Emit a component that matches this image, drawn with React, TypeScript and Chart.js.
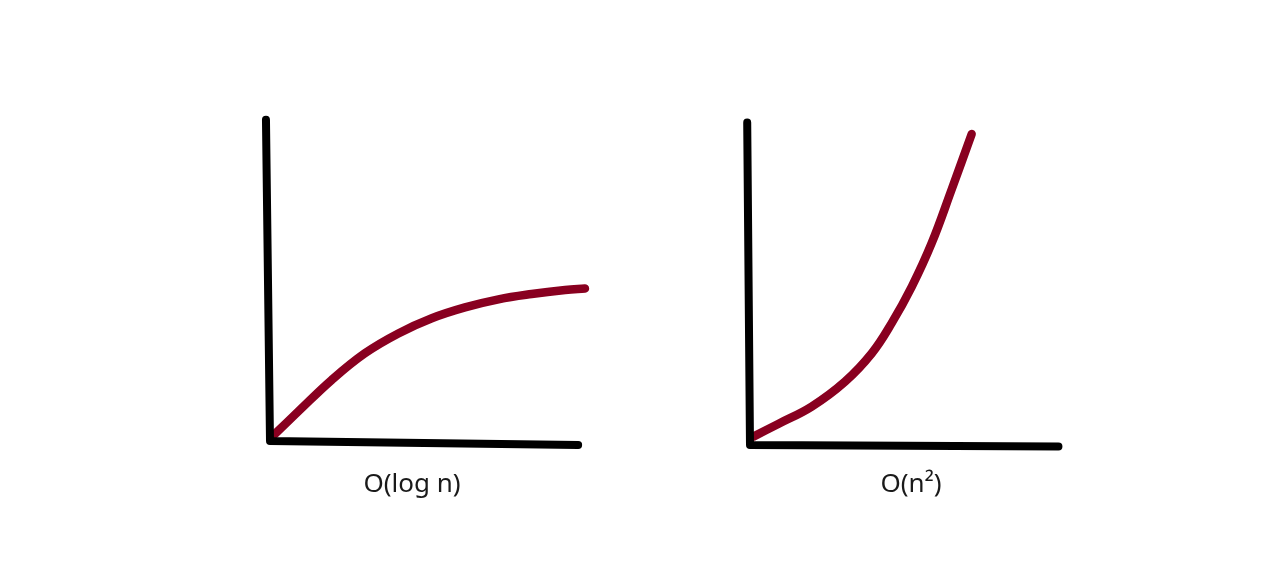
import React, { useEffect, useRef } from "react";
import { Chart, registerables } from "chart.js";

Chart.register(...registerables);

// Panel titles
const panelLabels = ["O(log n)", "O(n²)"];

// Axis strokes (hand drawn) for each panel, in panel units
const logAxisX = [-0.13, 0, 9.94];
const logAxisY = [10.36, 0, -0.13];
const sqAxisX = [-0.09, 0, 9.95];
const sqAxisY = [10.4, 0, -0.05];

// O(log n) curve
const logCurveX = [0.16, 0.91, 1.99, 3.06, 4.14, 5.22, 6.29, 7.37, 8.44, 9.52, 10.16];
const logCurveY = [0.23, 0.95, 1.97, 2.83, 3.47, 3.96, 4.31, 4.57, 4.74, 4.87, 4.92];

// O(n²) curve
const sqCurveX = [0.11, 0.91, 1.99, 3.06, 3.93, 4.57, 5.22, 5.86, 6.5, 7.15];
const sqCurveY = [0.27, 0.68, 1.24, 2.04, 2.96, 3.93, 5.11, 6.51, 8.23, 10.03];

const RED = "#890020";
const BLACK = "#000000";

const pts = (xs: number[], ys: number[]) => xs.map((x, i) => ({ x, y: ys[i] }));

function Panel({
  axisX,
  axisY,
  curveX,
  curveY,
  left,
  top,
}: {
  axisX: number[];
  axisY: number[];
  curveX: number[];
  curveY: number[];
  left: number;
  top: number;
}) {
  const ref = useRef<HTMLCanvasElement | null>(null);
  useEffect(() => {
    if (!ref.current) return;
    const chart = new Chart(ref.current, {
      type: "scatter",
      data: {
        datasets: [
          {
            data: pts(axisX, axisY),
            showLine: true,
            borderColor: BLACK,
            borderWidth: 8,
            borderCapStyle: "round",
            borderJoinStyle: "round",
            pointRadius: 0,
            tension: 0,
            clip: false,
          } as any,
          {
            data: pts(curveX, curveY),
            showLine: true,
            borderColor: RED,
            borderWidth: 8.5,
            borderCapStyle: "round",
            borderJoinStyle: "round",
            pointRadius: 0,
            tension: 0.4,
            clip: false,
          } as any,
        ],
      },
      options: {
        animation: false,
        responsive: false,
        maintainAspectRatio: false,
        layout: { padding: 0 },
        plugins: { legend: { display: false }, tooltip: { enabled: false } },
        scales: {
          x: { type: "linear", min: -1, max: 11, display: false },
          y: { type: "linear", min: -1, max: 11, display: false },
        },
      },
    });
    return () => chart.destroy();
  }, []);
  return (
    <canvas
      ref={ref}
      width={372}
      height={372}
      style={{ position: "absolute", left, top, width: 372, height: 372 }}
    />
  );
}

export default function App() {
  const labelStyle: React.CSSProperties = {
    position: "absolute",
    width: 200,
    textAlign: "center",
    fontFamily: '"Noto Sans", "Open Sans", sans-serif',
    fontSize: 26,
    lineHeight: "26px",
    color: "#1a1a1a",
  };
  return (
    <div
      style={{
        position: "absolute",
        left: 0,
        top: 0,
        width: 1284,
        height: 588,
        background: "#ffffff",
        overflow: "hidden",
      }}
    >
      <Panel axisX={logAxisX} axisY={logAxisY} curveX={logCurveX} curveY={logCurveY} left={239} top={100} />
      <Panel axisX={sqAxisX} axisY={sqAxisY} curveX={sqCurveX} curveY={sqCurveY} left={719} top={104} />
      <div style={{ ...labelStyle, left: 312, top: 469 }}>{panelLabels[0]}</div>
      <div style={{ ...labelStyle, left: 811, top: 469 }}>{panelLabels[1]}</div>
    </div>
  );
}
